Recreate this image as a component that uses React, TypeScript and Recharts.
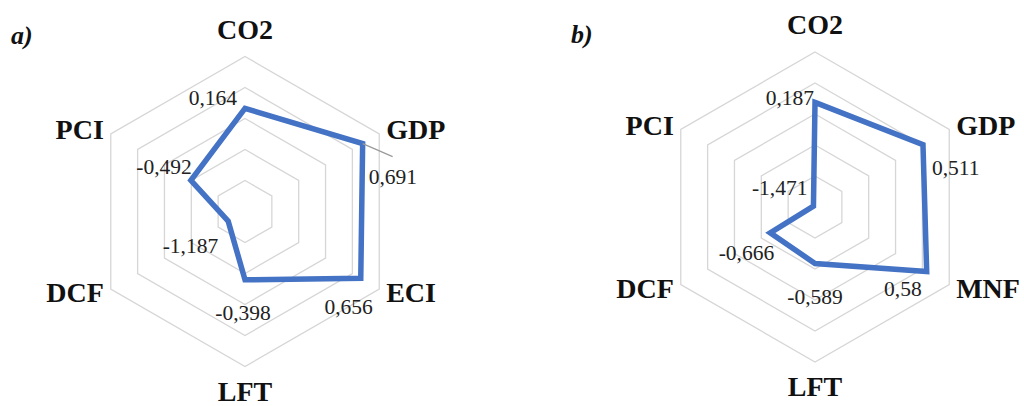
import React from 'react';
import { RadarChart, Radar, PolarGrid, PolarAngleAxis, PolarRadiusAxis } from 'recharts';

// ---- data ----
const categoriesA = ['CO2', 'GDP', 'ECI', 'LFT', 'DCF', 'PCI'];
const valuesA = [0.164, 0.691, 0.656, -0.398, -1.187, -0.492];

const categoriesB = ['CO2', 'GDP', 'MNF', 'LFT', 'DCF', 'PCI'];
const valuesB = [0.187, 0.511, 0.58, -0.589, -0.666, -1.471];

const radiusDomain: [number, number] = [-1.5, 1];
const radiusTicks = [-1.5, -1, -0.5, 0, 0.5, 1];
const panelTitles = ['a)', 'b)'];

// ---- label layout (styling, not data) ----
type LabelPos = { anchor: 'start' | 'middle' | 'end'; dx: number; dy: number; leader?: [number, number] };
const labelLayoutA: LabelPos[] = [
  { anchor: 'end', dx: -8, dy: -3 },
  { anchor: 'start', dx: 6, dy: 40, leader: [30, 13] },
  { anchor: 'end', dx: 12, dy: 36 },
  { anchor: 'middle', dx: -2, dy: 40 },
  { anchor: 'end', dx: -10, dy: 32 },
  { anchor: 'end', dx: 1, dy: -6 },
];
const labelLayoutB: LabelPos[] = [
  { anchor: 'end', dx: -1, dy: 3 },
  { anchor: 'start', dx: 9, dy: 30 },
  { anchor: 'end', dx: -5, dy: 25 },
  { anchor: 'middle', dx: 0, dy: 41 },
  { anchor: 'end', dx: 4, dy: 27 },
  { anchor: 'end', dx: -6, dy: -11 },
];

const SERIF = '"Liberation Serif", "DejaVu Serif", serif';
const BLUE = '#4472C4';
const GRID = '#d6d6d6';

const fmt = (v: number) => String(v).replace('.', ',');

const makeTick = (cy: number) => (props: any) => {
  const { x, y, payload, textAnchor } = props;
  let dy = 9;
  if (textAnchor === 'middle') dy = y < cy ? -10 : 26;
  return (
    <text
      x={x}
      y={y + dy}
      textAnchor={textAnchor}
      fontFamily={SERIF}
      fontWeight="bold"
      fontSize={28}
      fill="#111"
    >
      {payload.value}
    </text>
  );
};

const makeDot = (values: number[], layout: LabelPos[]) => (props: any) => {
  const { cx, cy, index } = props;
  const l = layout[index];
  return (
    <g key={`lbl-${index}`}>
      {l.leader && (
        <line
          x1={cx}
          y1={cy}
          x2={cx + l.leader[0]}
          y2={cy + l.leader[1]}
          stroke="#9a9a9a"
          strokeWidth={1.2}
        />
      )}
      <text
        x={cx + l.dx}
        y={cy + l.dy}
        textAnchor={l.anchor}
        fontFamily={SERIF}
        fontSize={21.5}
        fill="#222"
      >
        {fmt(values[index])}
      </text>
    </g>
  );
};

type PanelProps = {
  categories: string[];
  values: number[];
  layout: LabelPos[];
  left: number;
  cx: number;
  cy: number;
};

const Panel = ({ categories, values, layout, left, cx, cy }: PanelProps) => {
  const data = categories.map((c, i) => ({ cat: c, v: values[i] }));
  return (
    <div style={{ position: 'absolute', left, top: 0 }}>
      <RadarChart
        width={512}
        height={406}
        data={data}
        cx={cx}
        cy={cy}
        outerRadius={155}
        margin={{ top: 0, right: 0, bottom: 0, left: 0 }}
      >
        <PolarGrid gridType="polygon" radialLines={false} stroke={GRID} strokeWidth={1.3} />
        <PolarRadiusAxis
          type="number"
          domain={radiusDomain}
          ticks={radiusTicks as any}
          tickCount={6}
          tick={false}
          axisLine={false}
        />
        <PolarAngleAxis dataKey="cat" tick={makeTick(cy)} tickLine={false} axisLine={false} tickSize={8} />
        <Radar
          dataKey="v"
          stroke={BLUE}
          strokeWidth={5.5}
          fill="none"
          fillOpacity={0}
          isAnimationActive={false}
          dot={makeDot(values, layout)}
          activeDot={false}
        />
      </RadarChart>
    </div>
  );
};

export default function App() {
  return (
    <div
      style={{
        position: 'fixed',
        left: 0,
        top: 0,
        width: 1024,
        height: 406,
        background: '#fff',
        overflow: 'hidden',
      }}
    >
      <Panel categories={categoriesA} values={valuesA} layout={labelLayoutA} left={0} cx={245} cy={211.5} />
      <Panel categories={categoriesB} values={valuesB} layout={labelLayoutB} left={512} cx={303} cy={207} />
      <svg
        width={1024}
        height={406}
        style={{ position: 'absolute', left: 0, top: 0, pointerEvents: 'none' }}
      >
        <text x={11} y={44} fontFamily={SERIF} fontWeight="bold" fontStyle="italic" fontSize={26} fill="#111">
          {panelTitles[0]}
        </text>
        <text x={571} y={43} fontFamily={SERIF} fontWeight="bold" fontStyle="italic" fontSize={26} fill="#111">
          {panelTitles[1]}
        </text>
      </svg>
    </div>
  );
}
